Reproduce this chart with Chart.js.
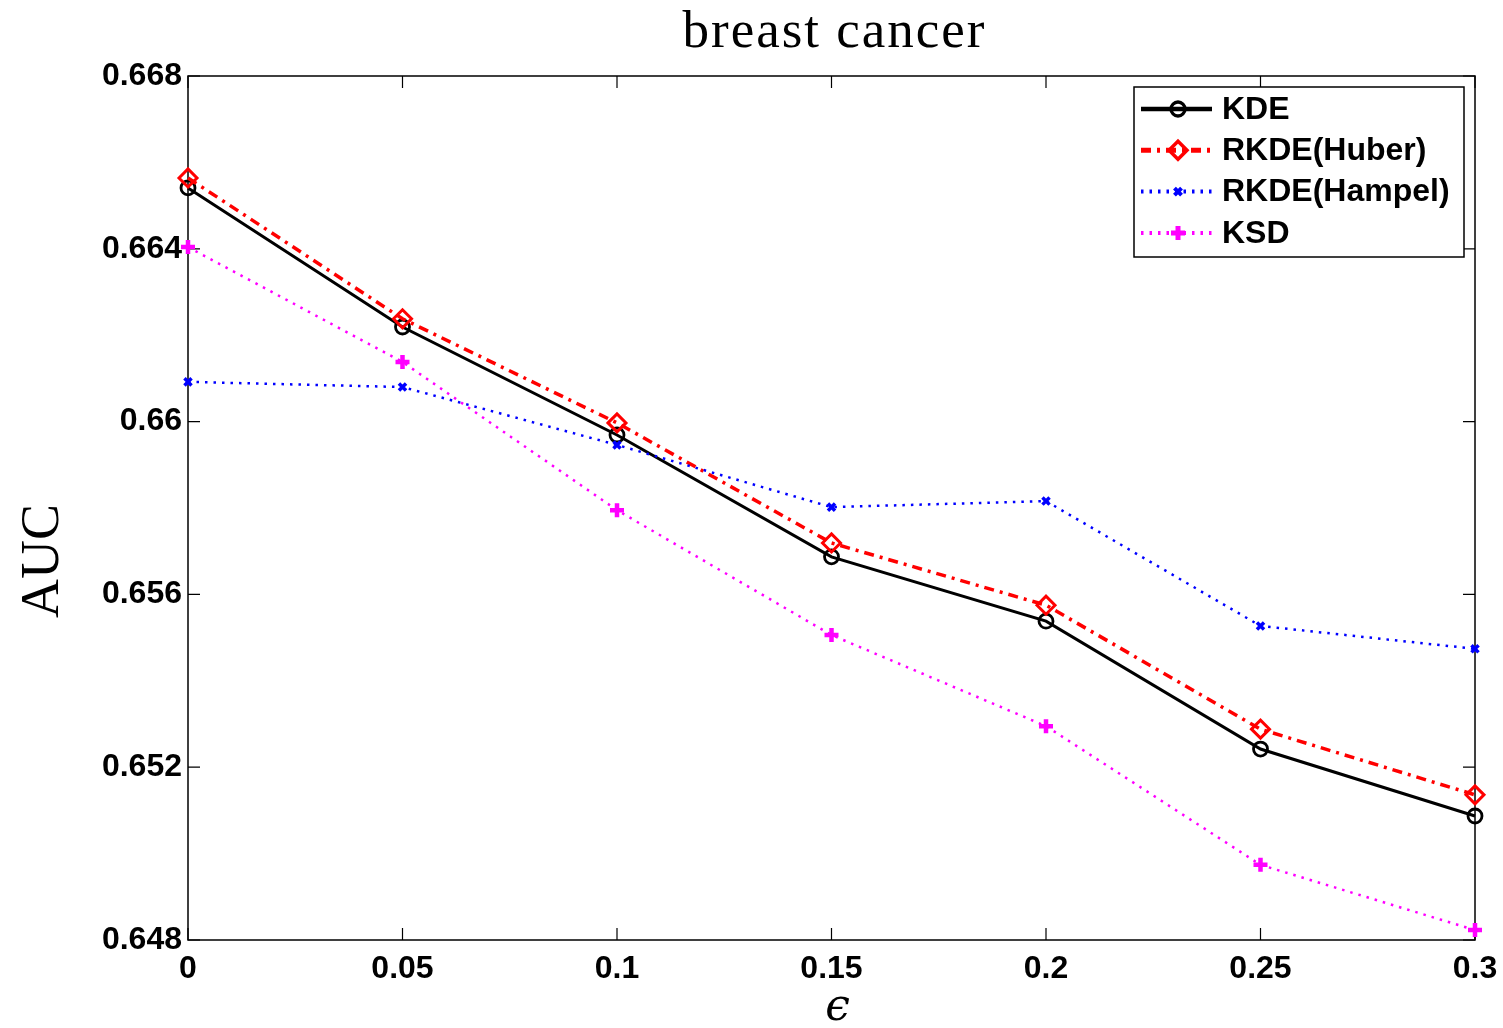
<!DOCTYPE html>
<html>
<head>
<meta charset="utf-8">
<script src="https://cdn.jsdelivr.net/npm/chart.js@4.4.0/dist/chart.umd.min.js"></script>
<style>
  body { margin: 0; background: #fff; }
  #wrap { width: 1503px; height: 1028px; }
</style>
</head>
<body>
<div id="wrap"><canvas id="auc"></canvas></div>
<script>
const epsilons = [0, 0.05, 0.1, 0.15, 0.2, 0.25, 0.3];
const kde    = [0.66541, 0.66219, 0.65969, 0.65687, 0.65538, 0.65242, 0.65087];
const huber  = [0.66564, 0.66238, 0.65997, 0.65719, 0.65575, 0.65288, 0.65136];
const hampel = [0.66092, 0.66080, 0.65946, 0.65802, 0.65816, 0.65527, 0.65474];
const ksd    = [0.66404, 0.66138, 0.65795, 0.65506, 0.65295, 0.64974, 0.64823];
const yTickValues = [0.648, 0.652, 0.656, 0.66, 0.664, 0.668];
const xTickValues = epsilons;
const seriesNames = ['KDE', 'RKDE(Huber)', 'RKDE(Hampel)', 'KSD'];

Chart.defaults.font.family = 'Liberation Sans, Arial, sans-serif';
Chart.defaults.color = '#000';

const pts = ys => epsilons.map((x, i) => ({ x: x, y: ys[i] }));
const fmt = v => String(+v.toFixed(4));

// box, inward ticks, title, axis labels, legend (MATLAB look)
const matlabFrame = {
    id: 'matlabFrame',
    beforeDatasetsDraw(chart) {
        const c = chart.ctx, a = chart.chartArea;
        const xs = chart.scales.x, ys = chart.scales.y;
        c.save();
        c.strokeStyle = '#000';
        c.lineWidth = 1.5;
        c.strokeRect(a.left, a.top, a.right - a.left, a.bottom - a.top);
        c.lineWidth = 1.2;
        c.beginPath();
        xTickValues.forEach(v => {
            const px = xs.getPixelForValue(v);
            c.moveTo(px, a.bottom); c.lineTo(px, a.bottom - 12);
            c.moveTo(px, a.top); c.lineTo(px, a.top + 12);
        });
        yTickValues.forEach(v => {
            const py = ys.getPixelForValue(v);
            c.moveTo(a.left, py); c.lineTo(a.left + 12, py);
            c.moveTo(a.right, py); c.lineTo(a.right - 12, py);
        });
        c.stroke();
        c.restore();
    },
    afterDraw(chart) {
        const c = chart.ctx, a = chart.chartArea;
        c.save();
        c.fillStyle = '#000';
        c.textAlign = 'center';
        c.textBaseline = 'alphabetic';
        c.font = '53px "Liberation Serif", serif';
        c.letterSpacing = '2px';
        c.fillText('breast cancer', (a.left + a.right) / 2 + 3, 47);
        c.letterSpacing = '0px';
        c.font = 'italic 44px "DejaVu Serif", serif';
        c.fillText('\u03f5', (a.left + a.right) / 2 + 6, 1020);
        c.translate(58, 561);
        c.rotate(-Math.PI / 2);
        c.font = '54px "Liberation Serif", serif';
        c.fillText('AUC', 0, 0);
        c.restore();

        // legend
        const bx = 1134, by = 87, bw = 330, bh = 170;
        c.save();
        c.fillStyle = '#fff';
        c.fillRect(bx, by, bw, bh);
        c.strokeStyle = '#000';
        c.lineWidth = 1.5;
        c.strokeRect(bx, by, bw, bh);
        chart.data.datasets.forEach((ds, i) => {
            const y = 109 + i * 41.3;
            c.save();
            c.strokeStyle = ds.borderColor;
            c.lineWidth = ds.borderWidth + 1.5;
            c.setLineDash(ds.borderDash || []);
            c.beginPath();
            c.moveTo(1141, y); c.lineTo(1212, y);
            c.stroke();
            c.setLineDash([]);
            c.fillStyle = 'rgba(0,0,0,0)';
            c.lineWidth = ds.pointBorderWidth + 0.5;
            Chart.helpers.drawPoint(c, {
                pointStyle: ds.pointStyle,
                radius: ds.pointRadius,
                borderWidth: ds.pointBorderWidth + 0.5,
                rotation: 0
            }, 1178, y);
            c.restore();
            c.fillStyle = '#000';
            c.font = 'bold 32px "Liberation Sans", Arial, sans-serif';
            c.textAlign = 'left';
            c.textBaseline = 'middle';
            c.fillText(ds.label, 1222, y + 1);
        });
        c.restore();
    }
};

function series(label, data, color, width, dash, style, radius, pw, order) {
    return {
        label: label,
        data: pts(data),
        borderColor: color,
        borderWidth: width,
        borderDash: dash,
        pointStyle: style,
        pointRadius: radius,
        pointHoverRadius: radius,
        pointBorderColor: color,
        pointBackgroundColor: 'rgba(0,0,0,0)',
        pointBorderWidth: pw,
        tension: 0,
        clip: false,
        order: order
    };
}

new Chart(document.getElementById('auc'), {
    type: 'line',
    data: {
        datasets: [
            series(seriesNames[0], kde, '#000000', 3, [], 'circle', 7, 2.8, 4),
            series(seriesNames[1], huber, '#ff0000', 3.5, [10, 6, 3, 6], 'rectRot', 9, 3, 3),
            series(seriesNames[2], hampel, '#0000ff', 2.5, [2.5, 6], 'crossRot', 5, 3.5, 2),
            series(seriesNames[3], ksd, '#ff00ff', 2.5, [2.5, 6], 'cross', 7, 4.5, 1)
        ]
    },
    options: {
        responsive: true,
        maintainAspectRatio: false,
        animation: false,
        layout: { padding: { top: 76, right: 28, left: 0, bottom: 0 } },
        plugins: { legend: { display: false }, tooltip: { enabled: false }, title: { display: false } },
        scales: {
            x: {
                type: 'linear',
                min: 0, max: 0.3,
                grid: { display: false, drawTicks: false },
                border: { display: false },
                afterBuildTicks: s => { s.ticks = xTickValues.map(v => ({ value: v })); },
                afterFit: s => { s.height = 88; s.paddingLeft = 0; s.paddingRight = 0; },
                ticks: { padding: 10, font: { size: 32, weight: 'bold' }, callback: fmt, maxRotation: 0 }
            },
            y: {
                min: 0.648, max: 0.668,
                grid: { display: false, drawTicks: false },
                border: { display: false },
                afterBuildTicks: s => { s.ticks = yTickValues.map(v => ({ value: v })); },
                afterFit: s => { s.width = 188; s.paddingTop = 0; s.paddingBottom = 0; },
                ticks: { padding: 6, font: { size: 32, weight: 'bold' }, callback: fmt }
            }
        }
    },
    plugins: [matlabFrame]
});
</script>
</body>
</html>
